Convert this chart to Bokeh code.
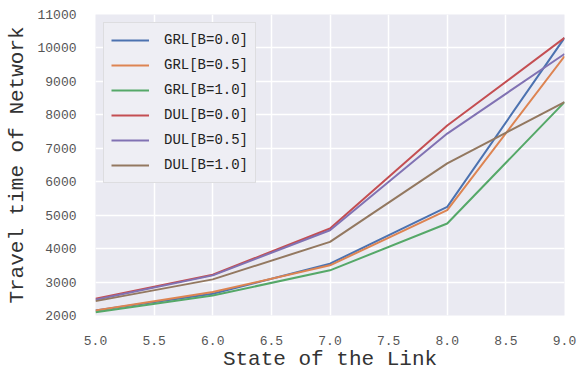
from bokeh.plotting import figure
from bokeh.models import Legend, LegendItem, FixedTicker
from bokeh.embed import file_html
from bokeh.resources import INLINE

states = [5, 6, 7, 8, 9]
grl_b00 = [2150, 2650, 3550, 5250, 10300]
grl_b05 = [2150, 2700, 3500, 5150, 9750]
grl_b10 = [2100, 2600, 3350, 4750, 8380]
dul_b00 = [2500, 3220, 4600, 7680, 10300]
dul_b05 = [2470, 3200, 4550, 7440, 9820]
dul_b10 = [2430, 3080, 4200, 6550, 8380]

series_names = ["GRL[B=0.0]", "GRL[B=0.5]", "GRL[B=1.0]",
                "DUL[B=0.0]", "DUL[B=0.5]", "DUL[B=1.0]"]
series_values = [grl_b00, grl_b05, grl_b10, dul_b00, dul_b05, dul_b10]
colors = ["#4C72B0", "#DD8452", "#55A868", "#C44E52", "#8172B3", "#937860"]

x_ticks = [5.0, 5.5, 6.0, 6.5, 7.0, 7.5, 8.0, 8.5, 9.0]
y_ticks = [2000, 3000, 4000, 5000, 6000, 7000, 8000, 9000, 10000, 11000]

FONT = "Liberation Mono"

p = figure(width=577, height=373, x_range=(5, 9), y_range=(2000, 11000),
           output_backend="svg", toolbar_location=None,
           min_border_left=95, min_border_top=14, min_border_right=13, min_border_bottom=56,
           background_fill_color="#EAEAF2", border_fill_color="white")
p.outline_line_color = None

for name, vals, c in zip(series_names, series_values, colors):
    p.line(states, vals, line_color=c, line_width=2)

renderers = p.renderers
legend = Legend(items=[LegendItem(label=n, renderers=[r]) for n, r in zip(series_names, renderers)],
                location="top_left")
legend.label_text_font = FONT
legend.label_text_font_size = "14px"
legend.label_text_color = "#222222"
legend.glyph_width = 38
legend.glyph_height = 20
legend.label_height = 20
legend.spacing = 5
legend.padding = 7
legend.margin = 8
legend.label_standoff = 15
legend.background_fill_color = "#EEEEF4"
legend.background_fill_alpha = 1.0
legend.border_line_color = "#CCCCCC"
legend.border_line_width = 1
p.add_layout(legend)

p.xaxis.ticker = FixedTicker(ticks=x_ticks)
p.yaxis.ticker = FixedTicker(ticks=y_ticks)
p.xaxis.major_label_overrides = {t: f"{t:.1f}" for t in x_ticks}

for ax in (p.xaxis[0], p.yaxis[0]):
    ax.axis_line_color = None
    ax.major_tick_line_color = None
    ax.minor_tick_line_color = None
    ax.major_label_text_font = FONT
    ax.major_label_text_font_size = "13px"
    ax.major_label_text_color = "#555555"
    ax.axis_label_text_font = FONT
    ax.axis_label_text_font_style = "normal"
    ax.axis_label_text_color = "#333333"

p.xaxis.axis_label = "State of the Link"
p.xaxis.axis_label_text_font_size = "21px"
p.xaxis.major_label_standoff = 14
p.xaxis.axis_label_standoff = 0

p.yaxis.axis_label = "Travel time of Network"
p.yaxis.axis_label_text_font_size = "21px"
p.yaxis.major_label_standoff = 13
p.yaxis.axis_label_standoff = 5

p.xgrid.grid_line_color = "white"
p.ygrid.grid_line_color = "white"
p.xgrid.grid_line_width = 1.5
p.ygrid.grid_line_width = 1.5

open("out.html", "w").write(file_html(p, INLINE))
